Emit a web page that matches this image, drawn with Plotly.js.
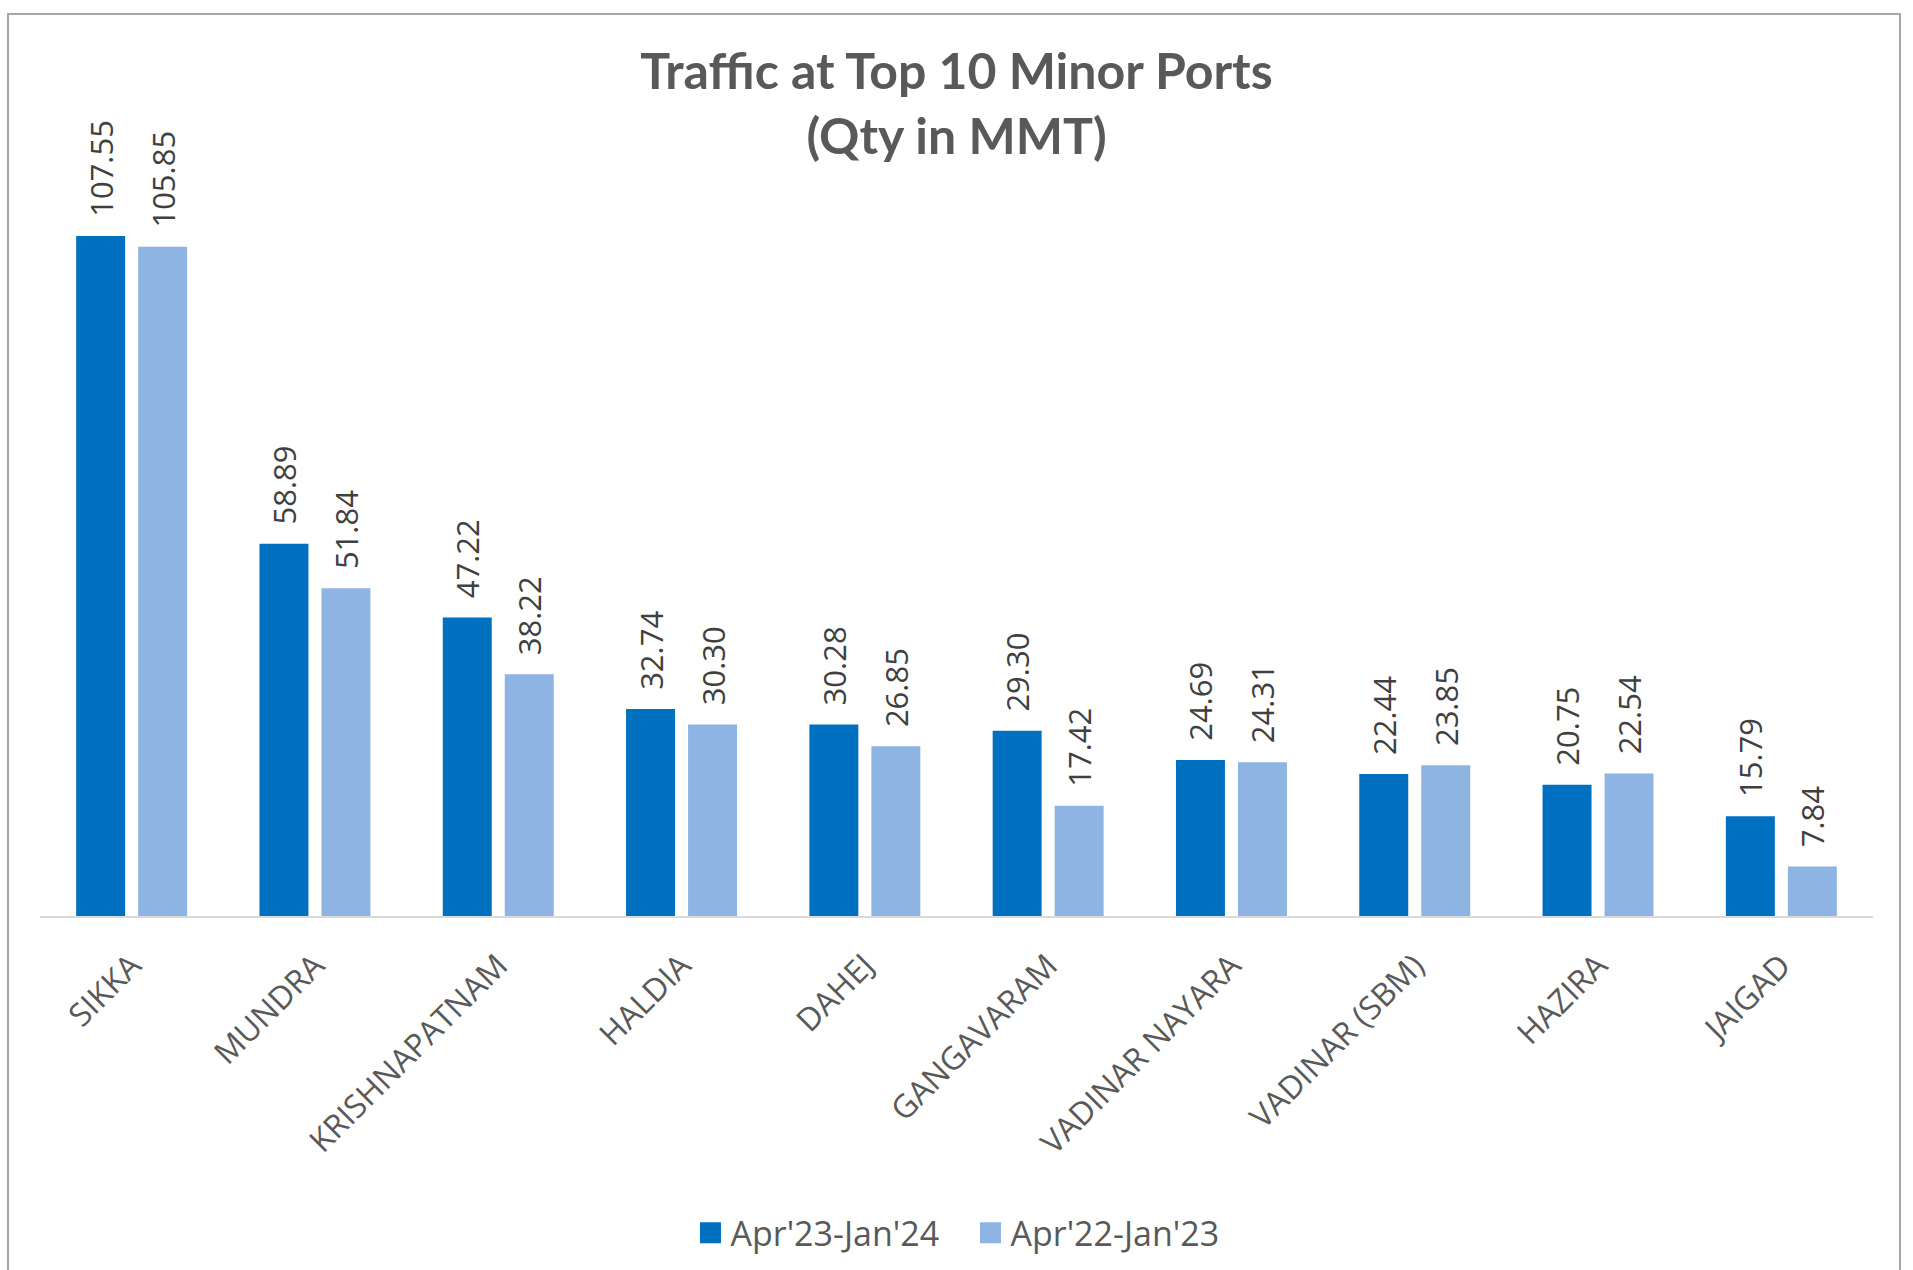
<!DOCTYPE html>
<html>
<head>
<meta charset="utf-8">
<script src="https://cdn.plot.ly/plotly-3.0.1.min.js"></script>
<style>
  html, body { margin: 0; padding: 0; background: #ffffff; }
  #wrap { position: relative; width: 1913px; height: 1270px; overflow: hidden; }
  #chart { position: absolute; left: 0; top: 0; width: 1913px; height: 1270px; }
  #frame { position: absolute; left: 7px; top: 13px; width: 1894px; height: 1300px;
           border: 2px solid #a6a6a6; pointer-events: none; box-sizing: border-box; }
</style>
</head>
<body>
<div id="wrap"><div id="chart"></div><div id="frame"></div></div>
<script>
const ports = ["SIKKA", "MUNDRA", "KRISHNAPATNAM", "HALDIA", "DAHEJ", "GANGAVARAM",
               "VADINAR NAYARA", "VADINAR (SBM)", "HAZIRA", "JAIGAD"];
const current = [107.55, 58.89, 47.22, 32.74, 30.28, 29.30, 24.69, 22.44, 20.75, 15.79];
const previous = [105.85, 51.84, 38.22, 30.30, 26.85, 17.42, 24.31, 23.85, 22.54, 7.84];
const seriesNames = ["Apr'23-Jan'24", "Apr'22-Jan'23"];
const titleText = "Traffic at Top 10 Minor Ports<br>(Qty in MMT)";

const labelFont = { family: "'Open Sans', 'Noto Sans', sans-serif", size: 31, color: "#404040" };

function barTrace(name, vals, color) {
  return {
    type: "bar",
    name: name,
    x: ports,
    y: vals,
    marker: { color: color },
    text: vals.map(v => "\u00a0\u00a0" + v.toFixed(2)),
    texttemplate: "%{text}",
    textposition: "outside",
    textangle: -90,
    constraintext: "none",
    outsidetextfont: labelFont,
    cliponaxis: false,
    hoverinfo: "x+y"
  };
}

const data = [
  barTrace(seriesNames[0], current, "#0070C0"),
  barTrace(seriesNames[1], previous, "#8EB4E3")
];

const layout = {
  width: 1913,
  height: 1270,
  paper_bgcolor: "#ffffff",
  plot_bgcolor: "#ffffff",
  margin: { l: 40, r: 40, t: 94, b: 354, autoexpand: false },
  barmode: "group",
  bargap: 0.3235,
  bargroupgap: 0.21,
  title: {
    text: titleText,
    font: { family: "Lato, 'Open Sans', sans-serif", size: 50, color: "#595959", weight: "bold" },
    x: 0.5, xanchor: "center",
    y: 0.93, yanchor: "top",
    yref: "container"
  },
  xaxis: {
    type: "category",
    showline: true,
    linecolor: "#D9D9D9",
    linewidth: 2,
    ticks: "",
    tickangle: -45,
    ticklabelstandoff: 16,
    tickfont: { family: "'Open Sans', 'Noto Sans', sans-serif", size: 32, color: "#595959" },
    showgrid: false,
    zeroline: false,
    fixedrange: true
  },
  yaxis: {
    range: [0, 130],
    visible: false,
    showgrid: false,
    zeroline: false,
    fixedrange: true
  },
  showlegend: true,
  legend: {
    orientation: "h",
    x: 0.5073, xanchor: "center", xref: "container",
    y: 0.029, yanchor: "middle", yref: "container",
    font: { family: "'Open Sans', 'Noto Sans', sans-serif", size: 34, color: "#595959" },
    itemwidth: 30,
    entrywidth: 235,
    tracegroupgap: 0
  }
};

Plotly.newPlot("chart", data, layout, { displayModeBar: false, staticPlot: true }).then(function (gd) {
  gd.querySelectorAll(".legend .legendpoints path").forEach(function (p) {
    p.setAttribute("d", "M10.5,10.5H-10.5V-10.5H10.5Z");
  });
});
</script>
</body>
</html>
